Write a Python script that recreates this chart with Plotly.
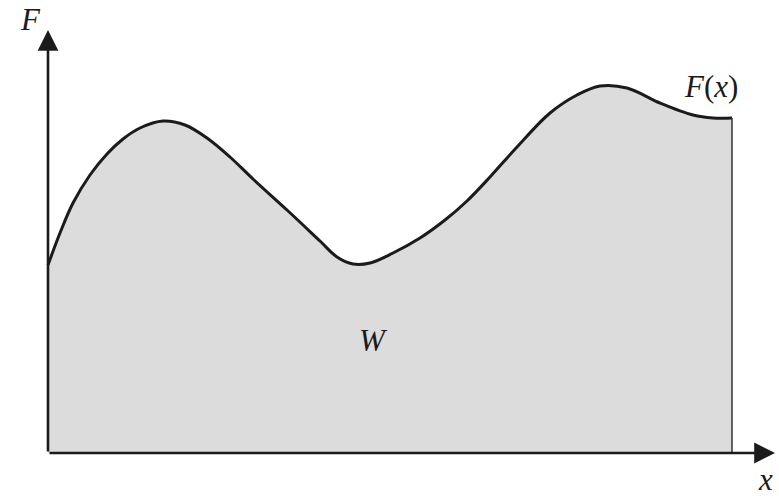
import plotly.graph_objects as go

# curve F(x) (origin at the axes' corner)
x_vals = [0, 12, 25, 42, 59, 75, 92, 115, 137, 159, 182, 205, 239, 272, 289,
          305, 322, 345, 372, 397, 419, 442, 469, 502, 529, 552, 579, 612,
          645, 665, 684]
f_vals = [188, 220, 250, 278, 299, 314, 325, 332, 328, 315, 296, 274, 243, 212,
          196, 189, 190, 200, 215, 233, 252, 276, 306, 340, 358, 367, 365, 350,
          338, 335, 335]

x_axis_end = 727
y_axis_end = 423

serif = "Liberation Serif, Times New Roman, serif"
ink = "#1b1b1b"

fig = go.Figure()

# shaded area W under the curve
fig.add_trace(go.Scatter(
    x=x_vals, y=f_vals, mode="lines", fill="tozeroy",
    fillcolor="#dddcdc", line=dict(color=ink, width=3, shape="spline", smoothing=1.0),
    hoverinfo="skip",
))
# right-hand boundary of the area
fig.add_trace(go.Scatter(
    x=[x_vals[-1], x_vals[-1]], y=[0, f_vals[-1]], mode="lines",
    line=dict(color="#333333", width=1.5), hoverinfo="skip",
))

# axes with arrow heads
for tip in [(x_axis_end, 0), (0, y_axis_end)]:
    fig.add_annotation(
        x=tip[0], y=tip[1], ax=0, ay=0, xref="x", yref="y", axref="x", ayref="y",
        text="", showarrow=True, arrowhead=2, arrowsize=1.6, arrowwidth=2.6,
        arrowcolor=ink, standoff=0,
    )

labels = [
    ("<i>F</i>", -18, 434, "middle"),
    ("<i>F</i>(<i>x</i>)", 663, 367, "middle"),
    ("<i>x</i>", 717, -45, "bottom"),
    ("<i>W</i>", 325, 113, "middle"),
]
for txt, lx, ly, anchor in labels:
    fig.add_annotation(x=lx, y=ly, xref="x", yref="y", text=txt, showarrow=False,
                       yanchor=anchor, borderpad=0,
                       font=dict(family=serif, size=31, color=ink))

fig.update_layout(
    width=779, height=498,
    margin=dict(l=0, r=0, t=0, b=0),
    paper_bgcolor="white", plot_bgcolor="white",
    showlegend=False,
    xaxis=dict(range=[-48, 731], visible=False, fixedrange=True),
    yaxis=dict(range=[-45, 453], visible=False, fixedrange=True),
)

# drop the browser's default 8px body margin so the figure fills the window
fig.write_html("out.html", config={"displayModeBar": False},
               post_script="document.body.style.margin='0';")
